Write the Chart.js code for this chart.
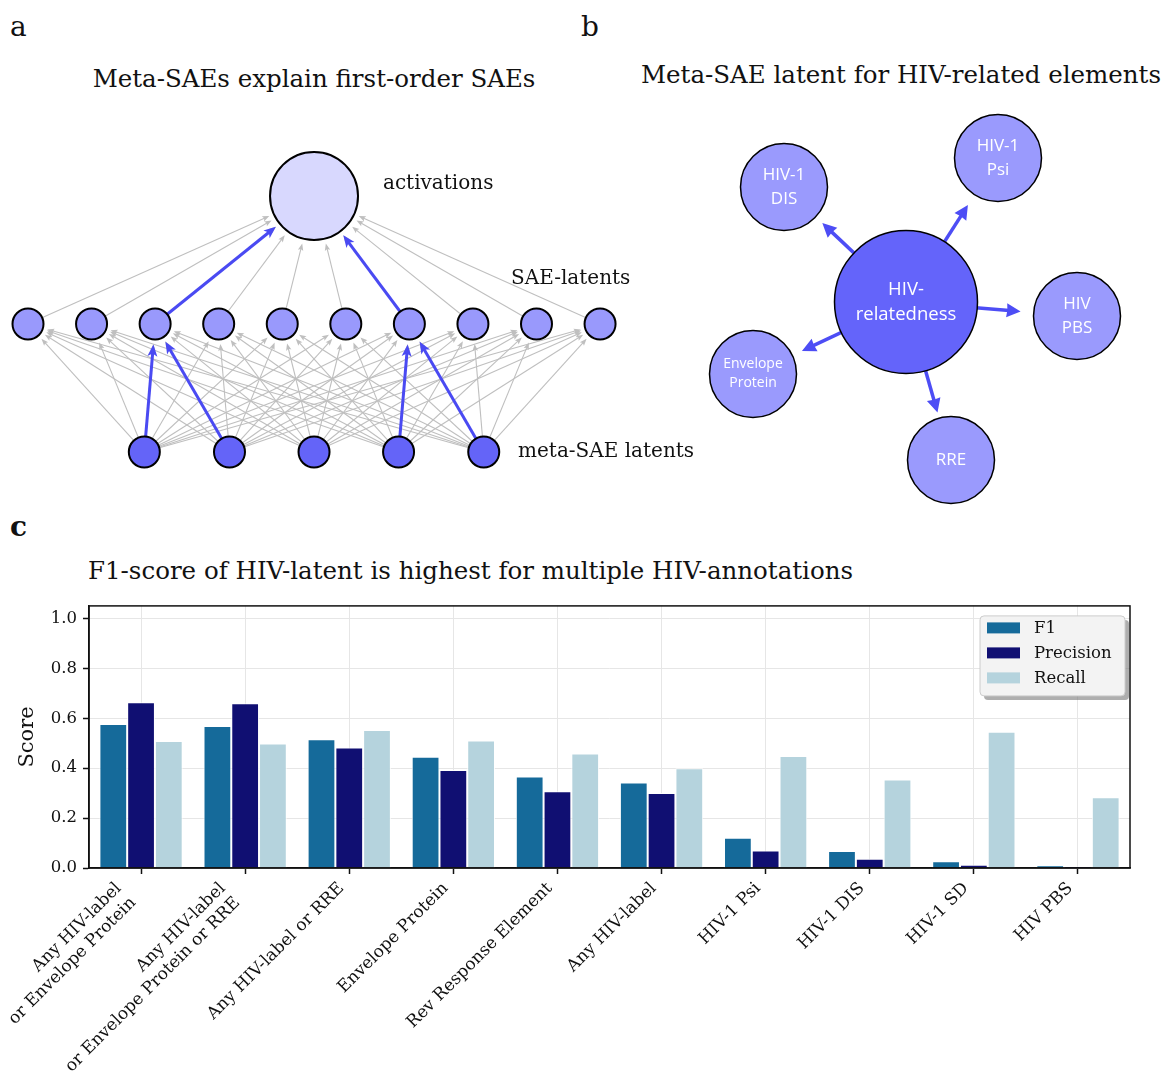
<!DOCTYPE html>
<html>
<head>
<meta charset="utf-8">
<title>Meta-SAE figure</title>
<script src="https://cdn.jsdelivr.net/npm/chart.js@4.4.1/dist/chart.umd.min.js"></script>
<style>
  html, body { margin: 0; padding: 0; background: #ffffff; }
  #page { position: relative; width: 1166px; height: 1072px; overflow: hidden;
          font-family: "DejaVu Serif", serif; color: #111; }
  .txt { position: absolute; white-space: nowrap; line-height: 1; }
  .centered { transform: translateX(-50%); }
  canvas { position: absolute; }
</style>
</head>
<body>
<div id="page">
  <div class="txt" style="left:10px; top:13px; font-size:28px;">a</div>
  <div class="txt" style="left:581px; top:13px; font-size:28px;">b</div>
  <div class="txt" style="left:10px; top:513px; font-size:28px; font-weight:bold;">c</div>

  <div class="txt centered" style="left:314px; top:67px; font-size:24.5px;">Meta-SAEs explain first-order SAEs</div>
  <div class="txt centered" style="left:901px; top:63px; font-size:24.5px;">Meta-SAE latent for HIV-related elements</div>
  <div class="txt" style="left:88px; top:559px; font-size:24.5px;">F1-score of HIV-latent is highest for multiple HIV-annotations</div>

  <canvas id="netChart" width="720" height="410" style="left:0px; top:100px;"></canvas>
  <canvas id="hubChart" width="526" height="420" style="left:640px; top:90px;"></canvas>
  <canvas id="scoreChart" width="1166" height="482" style="left:0px; top:590px;"></canvas>
</div>

<script>
// ---------- panel a: two-layer latent network ----------
const saeLatentX = [0, 1, 2, 3, 4, 5, 6, 7, 8, 9];
const metaLatentX = [1.83, 3.17, 4.5, 5.83, 7.17];
const activationX = [4.5];
const metaLevel = 0, saeLevel = 1, activationLevel = 2;
// meta-latent index -> SAE-latent index
const highlightedMetaLinks = [[0, 2], [1, 2], [3, 6], [4, 6]];
// SAE-latent indices feeding the activations strongly
const highlightedSaeLinks = [2, 6];
const layerNames = ["activations", "SAE-latents", "meta-SAE latents"];
const layerNameX = [5.585, 7.6, 7.71];
const layerNameY = [2.094, 1.352, 0.0];

// ---------- panel b: annotation neighbourhood of one meta-latent ----------
const hubLabel = ["HIV-", "relatedness"];
const elementLabels = [["HIV-1", "DIS"], ["HIV-1", "Psi"], ["HIV", "PBS"], ["Envelope", "Protein"], ["RRE"]];
const elementX = [-122, 92, 171, -153, 45];
const elementY = [115, 144, -14, -72, -158];

// ---------- panel c: scores per annotation ----------
const annotations = [
  ["Any HIV-label", "or Envelope Protein"],
  ["Any HIV-label", "or Envelope Protein or RRE"],
  "Any HIV-label or RRE",
  "Envelope Protein",
  "Rev Response Element",
  "Any HIV-label",
  "HIV-1 Psi",
  "HIV-1 DIS",
  "HIV-1 SD",
  "HIV PBS"
];
const f1Scores        = [0.577, 0.569, 0.516, 0.446, 0.367, 0.343, 0.121, 0.068, 0.027, 0.011];
const precisionScores = [0.664, 0.660, 0.483, 0.393, 0.307, 0.300, 0.070, 0.037, 0.013, 0.006];
const recallScores    = [0.509, 0.499, 0.553, 0.511, 0.459, 0.400, 0.449, 0.355, 0.546, 0.283];
const scoreTicks = [0, 0.2, 0.4, 0.6, 0.8, 1.0];

const SERIF = '"DejaVu Serif", serif';
const SANS = '"Open Sans", "Noto Sans", sans-serif';

// Straight arrow whose tip stops `shrink` px short of (x2, y2).
function drawArrow(ctx, x1, y1, x2, y2, shrink, color, lw, headLen, headW, notch) {
  const dx = x2 - x1, dy = y2 - y1, L = Math.hypot(dx, dy);
  const ux = dx / L, uy = dy / L;
  const tx = x2 - ux * shrink, ty = y2 - uy * shrink;
  const bx = tx - ux * headLen, by = ty - uy * headLen;
  ctx.strokeStyle = color;
  ctx.lineWidth = lw;
  ctx.lineCap = 'butt';
  ctx.beginPath();
  ctx.moveTo(x1, y1);
  ctx.lineTo(bx + ux * headLen * 0.4, by + uy * headLen * 0.4);
  ctx.stroke();
  ctx.fillStyle = color;
  ctx.beginPath();
  ctx.moveTo(tx, ty);
  ctx.lineTo(bx - uy * headW / 2, by + ux * headW / 2);
  ctx.lineTo(bx + ux * headLen * notch, by + uy * headLen * notch);
  ctx.lineTo(bx + uy * headW / 2, by - ux * headW / 2);
  ctx.closePath();
  ctx.fill();
}

// ---------- chart a ----------
const SMALL_R = 15.5, BIG_R = 44;
const GREY = '#bfbfbf', BLUE = '#4a4af2';

const networkEdges = {
  id: 'networkEdges',
  beforeDatasetsDraw(chart) {
    const { ctx, scales: { x, y } } = chart;
    const px = v => x.getPixelForValue(v), py = v => y.getPixelForValue(v);
    ctx.save();
    metaLatentX.forEach(mx => saeLatentX.forEach(sx => {
      drawArrow(ctx, px(mx), py(metaLevel), px(sx), py(saeLevel), SMALL_R + 4.5, GREY, 1.1, 7, 5.5, 0.2);
    }));
    saeLatentX.forEach(sx => {
      drawArrow(ctx, px(sx), py(saeLevel), px(activationX[0]), py(activationLevel), BIG_R + 5, GREY, 1.1, 7, 5.5, 0.2);
    });
    highlightedMetaLinks.forEach(([m, s]) => {
      drawArrow(ctx, px(metaLatentX[m]), py(metaLevel), px(saeLatentX[s]), py(saeLevel), SMALL_R + 5, BLUE, 3, 12, 10, 0.25);
    });
    highlightedSaeLinks.forEach(s => {
      drawArrow(ctx, px(saeLatentX[s]), py(saeLevel), px(activationX[0]), py(activationLevel), BIG_R + 5, BLUE, 3, 12, 10, 0.25);
    });
    ctx.restore();
  },
  afterDatasetsDraw(chart) {
    const { ctx, scales: { x, y } } = chart;
    ctx.save();
    ctx.font = '20px ' + SERIF;
    ctx.fillStyle = '#111';
    ctx.textAlign = 'left';
    ctx.textBaseline = 'middle';
    layerNames.forEach((t, i) => ctx.fillText(t, x.getPixelForValue(layerNameX[i]), y.getPixelForValue(layerNameY[i])));
    ctx.restore();
  }
};

new Chart(document.getElementById('netChart'), {
  type: 'scatter',
  data: {
    datasets: [
      { label: 'meta-SAE latents', data: metaLatentX.map(v => ({ x: v, y: metaLevel })),
        pointRadius: SMALL_R, backgroundColor: '#6464f8', borderColor: '#000', borderWidth: 2, clip: false },
      { label: 'SAE-latents', data: saeLatentX.map(v => ({ x: v, y: saeLevel })),
        pointRadius: SMALL_R, backgroundColor: '#9999fc', borderColor: '#000', borderWidth: 2, clip: false },
      { label: 'activations', data: activationX.map(v => ({ x: v, y: activationLevel })),
        pointRadius: BIG_R, backgroundColor: '#d8d8fe', borderColor: '#000', borderWidth: 2, clip: false }
    ]
  },
  options: {
    responsive: false, animation: false, events: [],
    layout: { padding: 0, autoPadding: false },
    plugins: { legend: { display: false }, tooltip: { enabled: false } },
    scales: {
      x: { type: 'linear', display: false, min: -0.4405, max: 10.887 },
      y: { type: 'linear', display: false, min: -0.453, max: 2.75 }
    }
  },
  plugins: [networkEdges]
});

// ---------- chart b ----------
const HUB_R = 71.5, ELEM_R = 43.5;
const hubLinks = {
  id: 'hubLinks',
  beforeDatasetsDraw(chart) {
    const { ctx, scales: { x, y } } = chart;
    const cx = x.getPixelForValue(0), cy = y.getPixelForValue(0);
    ctx.save();
    elementX.forEach((ex, i) => {
      const tx = x.getPixelForValue(ex), ty = y.getPixelForValue(elementY[i]);
      const L = Math.hypot(tx - cx, ty - cy);
      drawArrow(ctx, cx, cy, tx, ty, L - 115, '#4d4df5', 3.5, 14, 14, 0.05);
    });
    ctx.restore();
  },
  afterDatasetsDraw(chart) {
    const { ctx, scales: { x, y } } = chart;
    ctx.save();
    ctx.fillStyle = '#ffffff';
    ctx.textAlign = 'center';
    ctx.textBaseline = 'middle';
    const writeLines = (lines, cx, cy, size, gap) => {
      ctx.font = size + 'px ' + SANS;
      lines.forEach((t, k) => ctx.fillText(t, cx, cy + (k - (lines.length - 1) / 2) * gap));
    };
    writeLines(hubLabel, x.getPixelForValue(0), y.getPixelForValue(0), 18.5, 25);
    elementLabels.forEach((lines, i) => {
      const small = lines[0].length > 6;
      writeLines(lines, x.getPixelForValue(elementX[i]), y.getPixelForValue(elementY[i]),
                 small ? 14 : 17, small ? 19 : 24);
    });
    ctx.restore();
  }
};

new Chart(document.getElementById('hubChart'), {
  type: 'scatter',
  data: {
    datasets: [
      { label: 'elements', data: elementX.map((v, i) => ({ x: v, y: elementY[i] })),
        pointRadius: ELEM_R, backgroundColor: '#9a9afd', borderColor: '#000', borderWidth: 1.5, clip: false },
      { label: 'hub', data: [{ x: 0, y: 0 }],
        pointRadius: HUB_R, backgroundColor: '#6464fa', borderColor: '#000', borderWidth: 1.5, clip: false }
    ]
  },
  options: {
    responsive: false, animation: false, events: [],
    layout: { padding: 0, autoPadding: false },
    plugins: { legend: { display: false }, tooltip: { enabled: false } },
    scales: {
      x: { type: 'linear', display: false, min: -266, max: 260 },
      y: { type: 'linear', display: false, min: -208, max: 212 }
    }
  },
  plugins: [hubLinks]
});

// ---------- chart c ----------
const LABEL_FONT = 17, LABEL_LINE = 20.5, LABEL_ANGLE = Math.PI / 4;
const frameAndLegend = {
  id: 'frameAndLegend',
  afterDatasetsDraw(chart) {
    const { ctx, chartArea: a } = chart;
    ctx.save();
    ctx.strokeStyle = '#111';
    ctx.lineWidth = 1.5;
    ctx.strokeRect(a.left, a.top, a.right - a.left, a.bottom - a.top);
    ctx.restore();
  },
  afterDraw(chart) {
    const { ctx, chartArea: a, scales: { x } } = chart;
    ctx.save();
    // category labels: rotated blocks whose bounding box top-right sits under the tick
    ctx.font = LABEL_FONT + 'px ' + SERIF;
    ctx.fillStyle = '#111';
    ctx.textAlign = 'right';
    ctx.textBaseline = 'top';
    const s = Math.sin(LABEL_ANGLE);
    chart.data.labels.forEach((lab, i) => {
      const lines = Array.isArray(lab) ? lab : [lab];
      const tx = x.getPixelForTick(i);
      const ty = a.bottom + 11;
      ctx.save();
      ctx.translate(tx - lines.length * LABEL_LINE * s, ty);
      ctx.rotate(-LABEL_ANGLE);
      lines.forEach((t, k) => ctx.fillText(t, 0, k * LABEL_LINE + 1));
      ctx.restore();
    });

    // boxed legend with drop shadow
    const w = 145, h = 80, x0 = a.right - 5 - w, y0 = a.top + 10;
    ctx.fillStyle = 'rgba(120,120,120,0.6)';
    ctx.beginPath(); ctx.roundRect(x0 + 4, y0 + 4, w, h, 4); ctx.fill();
    ctx.fillStyle = '#f3f3f3';
    ctx.strokeStyle = '#cccccc';
    ctx.lineWidth = 1;
    ctx.beginPath(); ctx.roundRect(x0, y0, w, h, 4); ctx.fill(); ctx.stroke();
    ctx.font = '16.5px ' + SERIF;
    ctx.textBaseline = 'middle';
    ctx.textAlign = 'left';
    chart.data.datasets.forEach((ds, i) => {
      const cy = y0 + 12 + i * 25;
      ctx.fillStyle = ds.backgroundColor;
      ctx.fillRect(x0 + 7, cy - 5.5, 33, 11);
      ctx.fillStyle = '#111';
      ctx.fillText(ds.label, x0 + 54, cy + 1);
    });
    ctx.restore();
  }
};

new Chart(document.getElementById('scoreChart'), {
  type: 'bar',
  data: {
    labels: annotations,
    datasets: [
      { label: 'F1', data: f1Scores, backgroundColor: '#156a9a' },
      { label: 'Precision', data: precisionScores, backgroundColor: '#100f72' },
      { label: 'Recall', data: recallScores, backgroundColor: '#b5d3dd' }
    ]
  },
  options: {
    responsive: false, animation: false, events: [],
    layout: { padding: { left: 0, right: 36, top: 13, bottom: 0 } },
    datasets: { bar: { categoryPercentage: 0.8, barPercentage: 1.0, borderWidth: 1, borderColor: 'rgba(255,255,255,0.85)', borderSkipped: 'start' } },
    plugins: { legend: { display: false }, tooltip: { enabled: false } },
    scales: {
      x: {
        grid: { offset: false, color: '#e6e6e6', lineWidth: 1, tickColor: '#111', tickLength: 6, tickWidth: 1.5 },
        border: { display: true, color: '#111', width: 1.5 },
        ticks: { display: false, autoSkip: false },
        afterFit(scale) { scale.height = 204; }
      },
      y: {
        min: 0, max: 1.05,
        afterBuildTicks(scale) { scale.ticks = scoreTicks.map(v => ({ value: v })); },
        grid: { color: '#e6e6e6', lineWidth: 1, tickColor: '#111', tickLength: 6, tickWidth: 1.5 },
        border: { display: true, color: '#111', width: 1.5 },
        ticks: { padding: 6, color: '#111', font: { family: SERIF, size: 16.5 },
                 callback: v => Number(v).toFixed(1) },
        title: { display: true, text: 'Score', color: '#111', font: { family: SERIF, size: 21 },
                 padding: { top: 15, bottom: 0 } },
        afterFit(scale) { scale.width = 89; }
      }
    }
  },
  plugins: [frameAndLegend]
});
</script>
</body>
</html>
